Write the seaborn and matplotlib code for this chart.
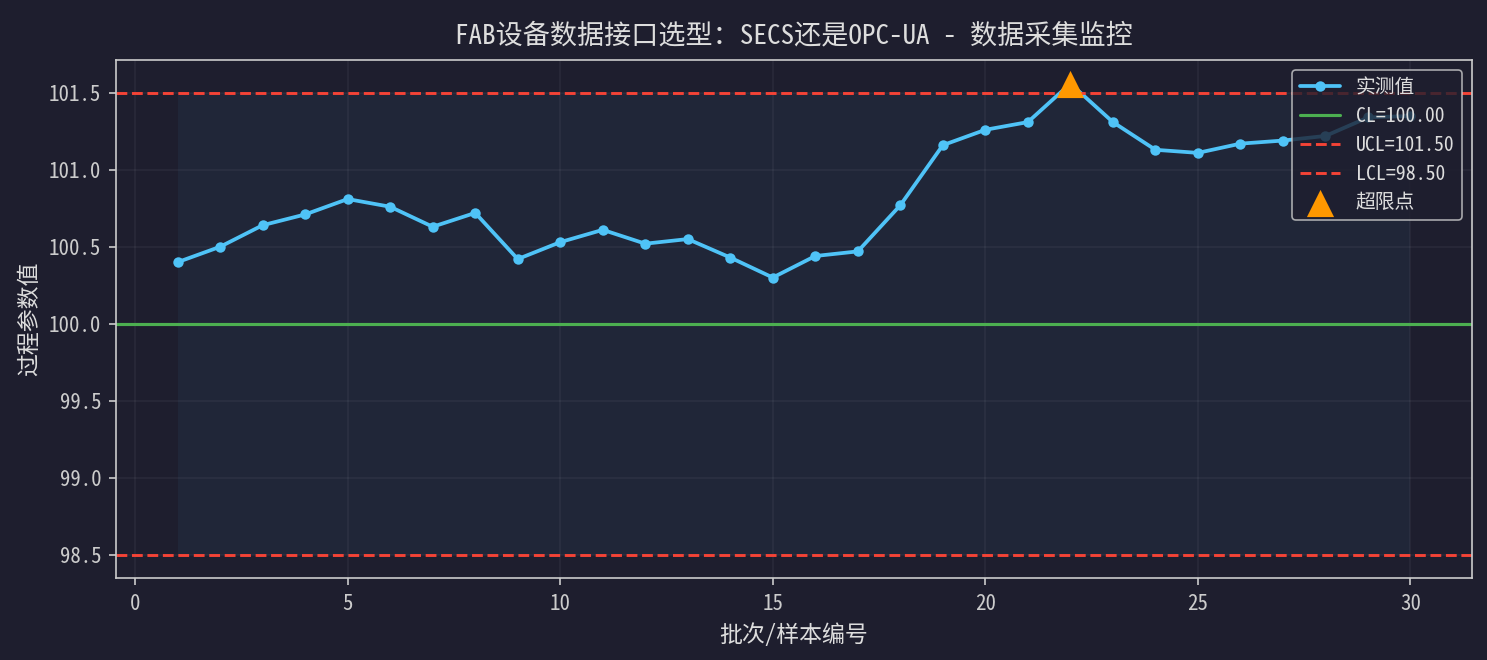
import numpy as np
import pandas as pd
import matplotlib
matplotlib.use('Agg')
import matplotlib.pyplot as plt
import seaborn as sns

batch = list(range(1, 31))
values = [100.40, 100.50, 100.64, 100.71, 100.81, 100.76, 100.63, 100.72, 100.42, 100.53,
          100.61, 100.52, 100.55, 100.43, 100.30, 100.44, 100.47, 100.77, 101.16, 101.26,
          101.31, 101.56, 101.31, 101.13, 101.11, 101.17, 101.19, 101.22, 101.34, 101.35]
cl = 100.00
ucl = 101.50
lcl = 98.50

df = pd.DataFrame({'batch': batch, 'value': values})
out = df[(df['value'] > ucl) | (df['value'] < lcl)]

bg = '#1e1e2e'
sns.set_theme(style='dark')
plt.rcParams['font.family'] = ['Noto Sans Mono CJK SC', 'DejaVu Sans Mono', 'Noto Sans CJK SC']
plt.rcParams['axes.unicode_minus'] = False

fig, ax = plt.subplots(figsize=(1487 / 150, 660 / 150), dpi=150)
fig.patch.set_facecolor(bg)
ax.set_facecolor(bg)

# 控制限之间的浅色区域
ax.fill_between(df['batch'], lcl, ucl, color='#4fc3f7', alpha=0.05, linewidth=0)
sns.lineplot(data=df, x='batch', y='value', ax=ax, color='#4fc3f7', linewidth=1.8,
             marker='o', markersize=5, markeredgewidth=0, label='实测值')
ax.axhline(cl, color='#4caf50', linewidth=1.5, label=f'CL={cl:.2f}')
ax.axhline(ucl, color='#f44336', linewidth=1.4, linestyle='--', label=f'UCL={ucl:.2f}')
ax.axhline(lcl, color='#f44336', linewidth=1.4, linestyle='--', label=f'LCL={lcl:.2f}')
sns.scatterplot(data=out, x='batch', y='value', ax=ax, color='#ff9800', marker='^',
                s=170, linewidth=0, zorder=5, label='超限点')

ax.set_title('FAB设备数据接口选型：SECS还是OPC-UA - 数据采集监控', color='#dddddd', fontsize=13, pad=8)
ax.set_xlabel('批次/样本编号', color='#dddddd', fontsize=11)
ax.set_ylabel('过程参数值', color='#dddddd', fontsize=11)
ax.tick_params(colors='#cccccc', labelsize=10, length=3.5, width=0.8, bottom=True, left=True)
ax.set_xticks([0, 5, 10, 15, 20, 25, 30])
ax.set_yticks([98.5, 99.0, 99.5, 100.0, 100.5, 101.0, 101.5])
ax.set_yticklabels([f'{v:.1f}' for v in [98.5, 99.0, 99.5, 100.0, 100.5, 101.0, 101.5]])
ax.grid(True, color='#ffffff', alpha=0.05, linewidth=0.8)
for s in ax.spines.values():
    s.set_color('#cccccc')
    s.set_linewidth(0.8)

leg = ax.legend(loc='upper right', facecolor=bg, edgecolor='#cccccc', framealpha=0.8,
                fontsize=9.5, labelcolor='#dddddd')
leg.get_frame().set_linewidth(0.8)

fig.subplots_adjust(left=0.078, right=0.99, top=0.909, bottom=0.124)
fig.savefig('out.png', facecolor=bg)
